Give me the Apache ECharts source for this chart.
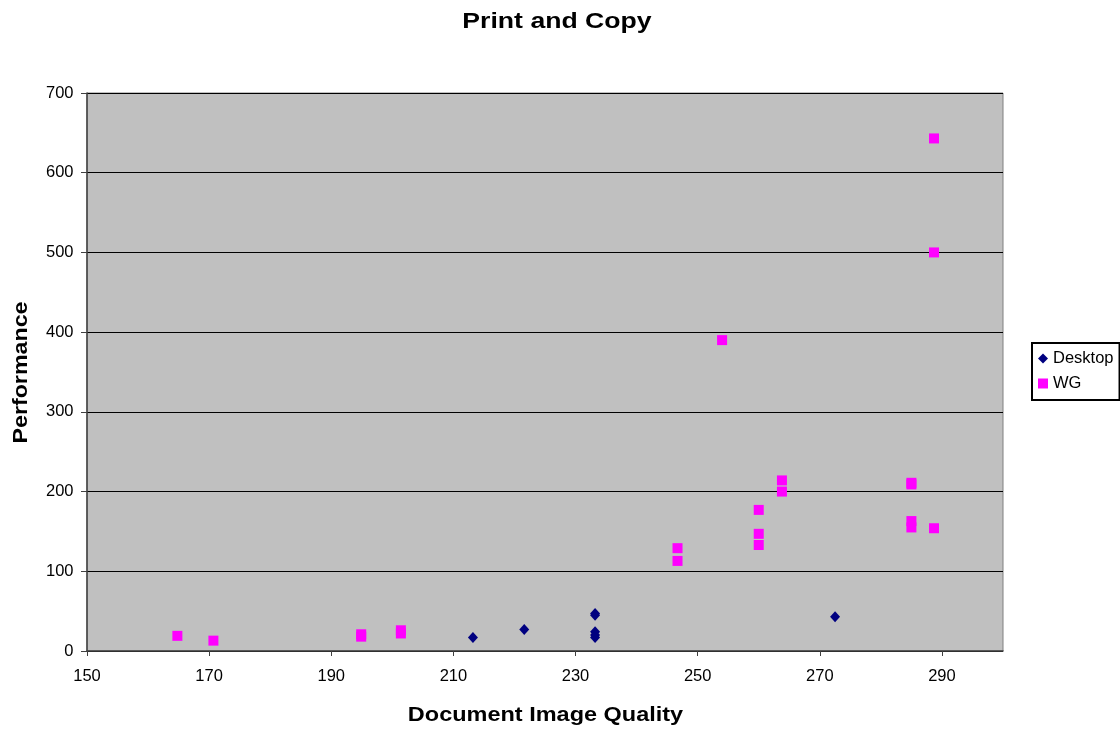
<!DOCTYPE html>
<html>
<head>
<meta charset="utf-8">
<title>Print and Copy</title>
<script src="https://cdn.jsdelivr.net/npm/echarts@6/dist/echarts.min.js"></script>
<style>
  html, body { margin: 0; padding: 0; background: #ffffff; }
  #chart { width: 1120px; height: 734px; }
</style>
</head>
<body>
<div id="chart"></div>
<script>
// Desktop devices: [document image quality, performance]
const desktopPoints = [
  [213.2, 17],
  [221.6, 27],
  [233.2, 47],
  [233.2, 45],
  [233.2, 24],
  [233.2, 20],
  [233.2, 17],
  [272.5, 43]
];

// Workgroup devices: [document image quality, performance]
const wgPoints = [
  [164.8, 19],
  [170.7, 13],
  [194.9, 21],
  [194.9, 18],
  [201.4, 26],
  [201.4, 22],
  [246.7, 129],
  [246.7, 113],
  [254.0, 390],
  [260.0, 177],
  [260.0, 147],
  [260.0, 133],
  [263.8, 214],
  [263.8, 200],
  [285.0, 211],
  [285.0, 209],
  [285.0, 163],
  [285.0, 155],
  [288.7, 643],
  [288.7, 500],
  [288.7, 154]
];

const xTicks = [150, 170, 190, 210, 230, 250, 270, 290];
const yTicks = [0, 100, 200, 300, 400, 500, 600, 700];

const chartTitle = 'Print and Copy';
const xAxisTitle = 'Document Image Quality';
const yAxisTitle = 'Performance';

const FONT = '"Liberation Sans", Arial, sans-serif';

const chart = echarts.init(document.getElementById('chart'), null, { renderer: 'canvas' });

// Headings are drawn as graphic text so they can be widened slightly.
function heading(text, x, y, size, scaleX, rotation) {
  return {
    type: 'text',
    x: x,
    y: y,
    rotation: rotation || 0,
    scaleX: scaleX,
    scaleY: 1,
    silent: true,
    style: {
      text: text,
      align: 'center',
      verticalAlign: 'middle',
      font: 'bold ' + size + 'px ' + FONT,
      fill: '#000000'
    }
  };
}

chart.setOption({
  animation: false,
  backgroundColor: '#ffffff',
  graphic: [
    heading(chartTitle, 557, 21.5, 22, 1.21),
    heading(xAxisTitle, 545.5, 715.5, 21, 1.118),
    heading(yAxisTitle, 21, 372.5, 21, 1.106, Math.PI / 2)
  ],
  legend: {
    orient: 'vertical',
    left: 1032,
    top: 343,
    padding: [7, 6, 8, 6],
    itemGap: 8,
    itemWidth: 10,
    itemHeight: 10,
    borderColor: '#000000',
    borderWidth: 2,
    borderRadius: 0,
    backgroundColor: '#ffffff',
    textStyle: { fontFamily: FONT, fontSize: 16.5, color: '#000000', padding: [0, 0, 0, 0] },
    data: [
      { name: 'Desktop', icon: 'diamond' },
      { name: 'WG', icon: 'rect' }
    ]
  },
  grid: {
    left: 87,
    right: 117,
    top: 93,
    bottom: 83,
    outerBoundsMode: 'none',
    containLabel: false,
    show: true,
    backgroundColor: '#C0C0C0',
    borderColor: '#808080',
    borderWidth: 1
  },
  xAxis: {
    type: 'value',
    min: 150,
    max: 300,
    interval: 20,
    axisLine: { show: true, onZero: false, lineStyle: { color: '#404040', width: 1.5 } },
    axisTick: { show: true, length: 5, inside: false, customValues: xTicks, lineStyle: { color: '#404040' } },
    axisLabel: { customValues: xTicks, margin: 16.5, fontFamily: FONT, fontSize: 16.5, color: '#000000' },
    splitLine: { show: false }
  },
  yAxis: {
    type: 'value',
    min: 0,
    max: 700,
    interval: 100,
    axisLine: { show: true, onZero: false, lineStyle: { color: '#404040', width: 1.5 } },
    axisTick: { show: true, length: 6, inside: false, customValues: yTicks, lineStyle: { color: '#404040' } },
    axisLabel: { customValues: yTicks, margin: 13.5, fontFamily: FONT, fontSize: 16.5, color: '#000000' },
    splitLine: { show: true, lineStyle: { color: '#000000', width: 1 } }
  },
  series: [
    {
      name: 'Desktop',
      type: 'scatter',
      data: desktopPoints,
      symbol: 'diamond',
      symbolSize: [10, 11],
      itemStyle: { color: '#000080', opacity: 1 },
      z: 3
    },
    {
      name: 'WG',
      type: 'scatter',
      data: wgPoints,
      symbol: 'rect',
      symbolSize: 10,
      itemStyle: { color: '#FF00FF', opacity: 1 },
      z: 4
    }
  ]
});
</script>
</body>
</html>
